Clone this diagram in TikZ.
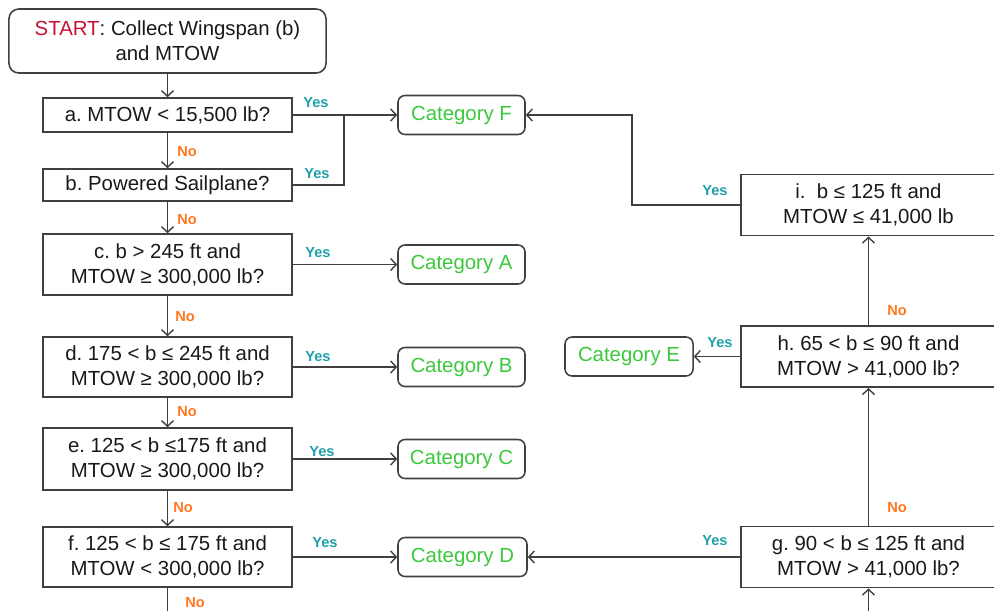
\documentclass[tikz,border=0pt]{standalone}
\usepackage{fontspec}
\setmainfont{Liberation Sans}
\usetikzlibrary{arrows.meta}
\frenchspacing
\definecolor{yescol}{RGB}{32,160,170}
\definecolor{nocol}{RGB}{255,120,30}
\definecolor{catcol}{RGB}{60,200,60}
\definecolor{startcol}{RGB}{200,20,50}
\definecolor{linecol}{RGB}{64,64,64}
\definecolor{txtcol}{RGB}{25,25,25}
\begin{document}
\begin{tikzpicture}[x=0.025cm,y=-0.025cm,
  basebox/.style={draw=linecol, line width=1.1pt, fill=white, align=center, inner sep=0pt,
    font=\fontsize{14.5}{17.8}\selectfont\frenchspacing},
  startbox/.style={basebox, text=txtcol, rounded corners=7pt, minimum width=7.925cm, minimum height=1.6cm},
  dec/.style={basebox, text=txtcol, minimum width=6.225cm},
  rdec/.style={basebox, text=txtcol, minimum width=6.375cm, minimum height=1.535cm},
  cat/.style={basebox, text=catcol, rounded corners=5pt, minimum width=3.175cm, minimum height=0.975cm},
  ln/.style={draw=linecol, line width=1pt},
  arr/.style={ln, -{Straight Barb[length=4pt,width=8.5pt]}},
  yes/.style={text=yescol, inner sep=0pt, font=\fontsize{10.4}{12}\selectfont\bfseries},
  no/.style={text=nocol, inner sep=0pt, font=\fontsize{10.4}{12}\selectfont\bfseries}]
\useasboundingbox (0,0) rectangle (994,611);
\clip (0,0) rectangle (994,611);

% left column
\node[startbox] (start) at (167.5,41) {\textcolor{startcol}{START}: Collect Wingspan (b)\\and MTOW};
\node[dec, minimum height=0.85cm] (a) at (167.5,115) {a. MTOW < 15,500 lb?};
\node[dec, minimum height=0.8cm] (b) at (167.5,185) {b. Powered Sailplane?};
\node[dec, minimum height=1.525cm] (c) at (167.5,264.5) {c. b > 245 ft and\\MTOW ≥ 300,000 lb?};
\node[dec, minimum height=1.5cm] (d) at (167.5,367) {d. 175 < b ≤ 245 ft and\\MTOW ≥ 300,000 lb?};
\node[dec, minimum height=1.55cm] (e) at (167.5,459) {e. 125 < b ≤175 ft and\\MTOW ≥ 300,000 lb?};
\node[dec, minimum height=1.5cm] (f) at (167.5,557) {f. 125 < b ≤ 175 ft and\\MTOW < 300,000 lb?};

% categories
\node[cat] (F) at (461.5,115) {Category F};
\node[cat] (A) at (461.5,264.5) {Category A};
\node[cat] (B) at (461.5,367) {Category B};
\node[cat] (C) at (461.5,459) {Category C};
\node[cat, minimum width=3.225cm] (D) at (462.5,557) {Category D};
\node[cat, minimum width=3.2cm] (E) at (629,356.5) {Category E};

% right column
\node[rdec] (i) at (868.5,205) {i.\ \ b ≤ 125 ft and\\MTOW ≤ 41,000 lb};
\node[rdec] (h) at (868.5,356.5) {h. 65 < b ≤ 90 ft and\\MTOW > 41,000 lb?};
\node[rdec] (g) at (868.5,557) {g. 90 < b ≤ 125 ft and\\MTOW > 41,000 lb?};

\coordinate (jn) at (344,115);
\coordinate (iy) at (632,115);
\coordinate (fend) at (167.5,620);
\coordinate (gstart) at (868.5,620);

% vertical flow
\draw[arr] (start.south) -- (a.north);
\draw[arr] (a.south) -- (b.north);
\draw[arr] (b.south) -- (c.north);
\draw[arr] (c.south) -- (d.north);
\draw[arr] (d.south) -- (e.north);
\draw[arr] (e.south) -- (f.north);
\draw[ln] (f.south) -- (fend);

% yes branches
\draw[arr] (a.east) -- (F.west);
\draw[ln] (b.east) -| (jn);
\draw[arr] (c.east) -- (A.west);
\draw[arr] (d.east) -- (B.west);
\draw[arr] (e.east) -- (C.west);
\draw[arr] (f.east) -- (D.west);

% right column flow
\draw[arr] (gstart) -- (g.south);
\draw[arr] (g.north) -- (h.south);
\draw[arr] (h.north) -- (i.south);
\draw[arr] (g.west) -- (D.east);
\draw[arr] (h.west) -- (E.east);
\draw[arr] (i.west) -| (iy) -- (F.east);

% labels
\node[yes] (ya) at (316,103) {Yes};
\node[yes] (yb) at (317,174) {Yes};
\node[yes] (yc) at (318,253) {Yes};
\node[yes] (yd) at (318,357) {Yes};
\node[yes] (ye) at (322,452) {Yes};
\node[yes] (yf) at (325,543) {Yes};
\node[yes] (yi) at (715,191) {Yes};
\node[yes] (yh) at (720,343) {Yes};
\node[yes] (yg) at (715,541) {Yes};
\node[no] (na) at (187,152) {No};
\node[no] (nb) at (187,220) {No};
\node[no] (nc) at (185,317) {No};
\node[no] (nd) at (187,412) {No};
\node[no] (ne) at (183,508) {No};
\node[no] (nf) at (195,603) {No};
\node[no] (nh) at (897,311) {No};
\node[no] (ng) at (897,508) {No};
\end{tikzpicture}
\end{document}
